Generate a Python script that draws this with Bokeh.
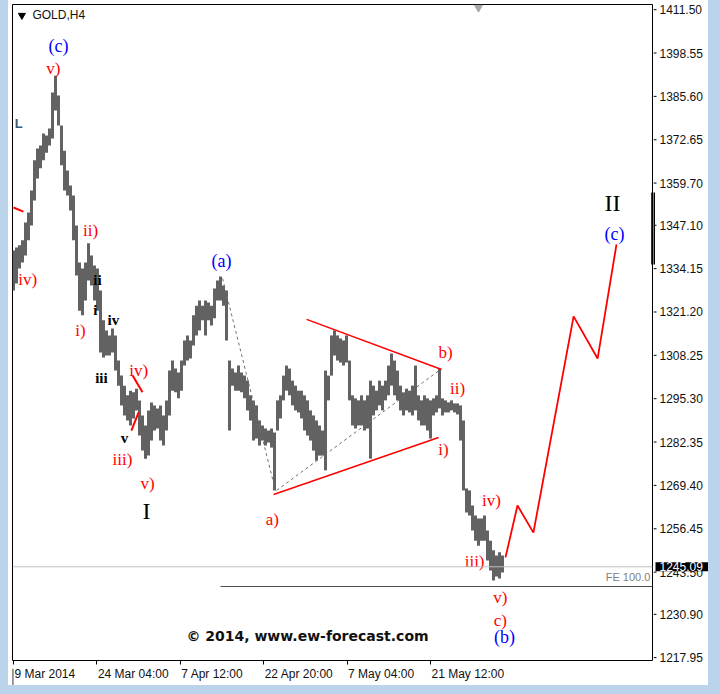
from bokeh.plotting import figure
from bokeh.models import (Range1d, FixedTicker, Label, Span, ColumnDataSource, Spacer)
from bokeh.layouts import row, column
from bokeh.core.properties import value
from bokeh.embed import file_html
from bokeh.resources import INLINE

# ---- price bars (H4, sampled), high / low in USD ----
bar_high = [1339.6, 1340.5, 1341.1, 1342.6, 1347.9, 1350.9, 1357.5, 1366.5, 1370.0, 1370.9,
            1374.5, 1373.9, 1376.0, 1386.8, 1391.8, 1385.9, 1376.9, 1369.4, 1363.5, 1359.0,
            1356.0, 1347.0, 1336.0, 1334.2, 1336.0, 1341.7, 1338.1, 1335.1, 1334.2, 1327.6,
            1318.7, 1315.7, 1314.2, 1316.3, 1314.2, 1306.7, 1302.2, 1299.2, 1296.3, 1297.7,
            1297.2, 1298.3, 1294.8, 1290.3, 1287.3, 1291.8, 1294.2, 1293.3, 1292.4, 1293.3,
            1290.3, 1294.8, 1303.7, 1306.7, 1304.3, 1303.1, 1306.7, 1312.7, 1314.2, 1312.7,
            1320.2, 1323.1, 1324.6, 1323.1, 1324.6, 1324.0, 1323.1, 1328.2, 1330.6, 1331.8,
            1329.1, 1327.6, 1306.7, 1304.3, 1303.1, 1305.2, 1303.1, 1302.2, 1300.7, 1296.3,
            1294.8, 1293.3, 1288.8, 1287.3, 1286.4, 1285.8, 1286.4, 1285.2, 1294.8, 1296.3,
            1302.2, 1305.2, 1304.3, 1300.7, 1299.2, 1297.7, 1297.7, 1296.3, 1294.8, 1291.8,
            1290.3, 1288.8, 1287.3, 1285.8, 1303.7, 1302.2, 1314.2, 1315.7, 1314.2, 1313.3,
            1312.7, 1314.2, 1306.7, 1296.3, 1295.4, 1294.8, 1296.3, 1294.8, 1296.3, 1300.7,
            1299.2, 1297.7, 1300.7, 1299.2, 1300.7, 1305.2, 1308.8, 1306.7, 1303.7, 1299.2,
            1297.2, 1298.3, 1297.7, 1299.2, 1305.2, 1296.3, 1294.8, 1296.3, 1295.4, 1294.8,
            1295.4, 1296.3, 1304.3, 1295.4, 1294.8, 1294.2, 1294.8, 1293.9, 1293.9, 1293.3,
            1288.8, 1268.5, 1267.9, 1263.4, 1260.4, 1259.5, 1259.5, 1260.4, 1255.9, 1252.9,
            1250.0, 1248.5, 1249.4, 1248.5]
bar_low = [1327.6, 1329.7, 1334.2, 1336.0, 1338.1, 1342.6, 1347.0, 1354.5, 1361.1, 1364.1,
           1366.5, 1368.8, 1370.9, 1373.0, 1381.4, 1376.9, 1365.0, 1357.5, 1356.0, 1351.5,
           1342.6, 1332.1, 1321.6, 1320.2, 1324.6, 1330.6, 1329.1, 1324.6, 1321.6, 1309.1,
           1307.6, 1308.2, 1308.2, 1309.1, 1303.7, 1299.2, 1293.3, 1290.3, 1288.8, 1287.3,
           1289.4, 1291.8, 1284.3, 1279.8, 1277.4, 1278.3, 1282.8, 1285.8, 1286.4, 1282.8,
           1281.3, 1285.8, 1290.3, 1297.7, 1297.2, 1295.4, 1297.7, 1305.2, 1306.7, 1307.3,
           1311.2, 1314.2, 1315.7, 1318.7, 1314.2, 1318.7, 1317.2, 1319.3, 1324.6, 1324.6,
           1323.1, 1312.7, 1285.8, 1299.2, 1297.7, 1297.7, 1297.2, 1295.4, 1291.8, 1288.8,
           1282.8, 1283.4, 1281.3, 1282.8, 1281.3, 1282.2, 1280.7, 1267.9, 1285.8, 1289.4,
           1294.8, 1297.7, 1296.3, 1293.3, 1291.8, 1291.2, 1289.4, 1285.8, 1284.3, 1282.8,
           1279.8, 1276.8, 1278.3, 1278.3, 1273.9, 1294.8, 1302.2, 1308.2, 1306.7, 1306.1,
           1305.2, 1306.1, 1294.8, 1287.3, 1286.4, 1287.3, 1287.3, 1285.8, 1286.4, 1277.4,
           1290.3, 1291.8, 1293.3, 1291.8, 1294.8, 1296.3, 1299.2, 1296.3, 1294.8, 1291.8,
           1290.3, 1291.8, 1291.2, 1290.3, 1291.8, 1288.8, 1287.3, 1287.3, 1285.8, 1283.4,
           1290.3, 1291.2, 1292.4, 1290.3, 1291.2, 1291.2, 1291.8, 1291.2, 1290.6, 1282.8,
           1267.9, 1261.3, 1260.4, 1255.9, 1252.9, 1251.4, 1252.9, 1252.9, 1247.0, 1244.0,
           1241.0, 1242.2, 1241.6, 1243.4]
bar_idx = list(range(len(bar_high)))

# ---- axes ----
y_ticks = [1411.50, 1398.55, 1385.60, 1372.65, 1359.70, 1347.10, 1334.15, 1321.20,
           1308.25, 1295.30, 1282.35, 1269.40, 1256.45, 1243.50, 1230.90, 1217.95]
y_tick_labels = ["%.2f" % v for v in y_ticks]
x_tick_pos = [0, 27.8, 55.6, 83.4, 111.2, 139]
x_tick_labels = ["9 Mar 2014", "24 Mar 04:00", "7 Apr 12:00", "22 Apr 20:00",
                 "7 May 04:00", "21 May 12:00"]

# ---- annotations (bar index, price) ----
proj_x = [164, 168, 173.3, 186.7, 194.7, 201]
proj_y = [1247.9, 1263.4, 1255.3, 1319.9, 1307.3, 1341.4]
tri_up_x, tri_up_y = [97.7, 142.7], [1319.0, 1304.0]
tri_lo_x, tri_lo_y = [86.7, 141.7], [1266.7, 1283.7]
dash1_x, dash1_y = [69.7, 87.3], [1331.2, 1267.9]
dash2_x, dash2_y = [87.7, 142.3], [1267.9, 1304.0]
red_seg_x0 = [0, 39.7, 39.3]
red_seg_y0 = [1352.4, 1302.2, 1285.8]
red_seg_x1 = [3.3, 43.0, 41.7]
red_seg_y1 = [1351.2, 1297.2, 1291.2]

bid_price = 1245.09
fe_price = 1239.2
marker_top, marker_bottom = 1356.9, 1335.4

red_txt = ["v)", "iv)", "ii)", "i)", "iv)", "iii)", "v)", "a)", "b)", "ii)", "i)", "iv)", "iii)", "v)", "c)"]
red_x = [13.3, 4.7, 25.7, 22.3, 41.7, 36.3, 44.7, 86.3, 144, 148, 143.3, 159.3, 153.7, 162.3, 162.3]
red_y = [1393.9, 1330.9, 1345.5, 1315.7, 1303.7, 1277.1, 1269.9, 1259.2, 1309.1, 1298.4, 1280.1,
         1264.9, 1246.7, 1236.0, 1229.1]
blue_txt = ["(c)", "(a)", "(b)", "(c)"]
blue_x = [15, 69.3, 163.7, 200.3]
blue_y = [1400.8, 1336.3, 1224.0, 1344.6]
blk_txt = ["ii", "i", "iv", "iii", "v"]
blk_x = [28, 27.3, 33.3, 29.3, 37]
blk_y = [1330.9, 1321.9, 1318.7, 1301.6, 1283.7]
big_txt = ["I", "II"]
big_x = [44.3, 199.7]
big_y = [1261.9, 1353.9]

AXIS_FONT = "Liberation Sans"

# ---------------- main price panel ----------------
p = figure(width=645, height=668, output_backend="svg", toolbar_location=None,
           x_range=Range1d(-1/3, 213), y_range=Range1d(1217.10, 1413.05),
           y_axis_location=None, min_border_left=4, min_border_right=1,
           min_border_top=4, min_border_bottom=8)
p.grid.visible = False
p.outline_line_color = "black"
p.outline_line_width = 1
p.background_fill_color = "white"
p.border_fill_color = "white"

xa = p.xaxis[0]
xa.ticker = FixedTicker(ticks=x_tick_pos)
xa.axis_line_color = None
xa.major_tick_in = 0
xa.major_tick_out = 4
xa.minor_tick_line_color = None
xa.major_label_text_color = None
xa.major_label_text_font_size = "1px"
xa.major_label_standoff = 0

# horizontal levels
p.add_layout(Span(location=bid_price, dimension="width", line_color="#c0c0c0", line_width=1))
p.segment(x0=[69], y0=[fe_price], x1=[214], y1=[fe_price], line_color="#505050", line_width=1.2)

# price bars
src = ColumnDataSource(dict(x=bar_idx, top=bar_high, bottom=bar_low))
p.vbar(x="x", top="top", bottom="bottom", width=1.0, source=src,
       fill_color="#626262", line_color=None)

# wave structure lines
p.line(dash1_x, dash1_y, line_color="#707070", line_dash="3 3", line_width=1)
p.line(dash2_x, dash2_y, line_color="#707070", line_dash="3 3", line_width=1)
p.line(tri_up_x, tri_up_y, line_color="#ff0000", line_width=1.5)
p.line(tri_lo_x, tri_lo_y, line_color="#ff0000", line_width=1.5)
p.segment(x0=red_seg_x0, y0=red_seg_y0, x1=red_seg_x1, y1=red_seg_y1,
          line_color="#ff0000", line_width=2)
p.line(proj_x, proj_y, line_color="#ff0000", line_width=1.8)

# right-edge marker (part inside the frame)
p.segment(x0=[212.9], y0=[marker_top], x1=[212.9], y1=[marker_bottom], line_color="black", line_width=2)
# chart shift marker
p.scatter([155], [1412.15], marker="inverted_triangle", size=8, color="#a8a8a8")
# title marker
p.scatter([2.8], [1409.8], marker="inverted_triangle", size=7, color="black")

# wave labels
p.text(x=red_x, y=red_y, text=red_txt, text_color="#ff0000", text_align="center",
       text_baseline="middle", text_font=value("Liberation Serif"), text_font_size="17px")
p.text(x=blue_x, y=blue_y, text=blue_txt, text_color="#0000ff", text_align="center",
       text_baseline="middle", text_font=value("Liberation Serif"), text_font_size="18px")
p.text(x=blk_x, y=blk_y, text=blk_txt, text_color="#000000", text_align="center",
       text_baseline="middle", text_font=value("Liberation Serif"), text_font_size="15px",
       text_font_style="bold")
p.text(x=big_x, y=big_y, text=big_txt, text_color="#000000", text_align="center",
       text_baseline="middle", text_font=value("Liberation Serif"), text_font_size="24px")
p.text(x=[1.7], y=[1377.5], text=["L"], text_color="#3c5a78", text_align="center",
       text_baseline="middle", text_font=value("Liberation Sans"), text_font_size="13px",
       text_font_style="bold")

p.add_layout(Label(x=6.3, y=1409.8, text="GOLD,H4", text_font="Liberation Sans",
                   text_font_size="12px", text_baseline="middle", text_color="#111111"))
p.add_layout(Label(x=98, y=1224.3, text="\u00a9 2014, www.ew-forecast.com",
                   text_font="DejaVu Sans", text_font_style="bold", text_font_size="14px",
                   text_align="center", text_baseline="middle", text_color="#111111"))
p.add_layout(Label(x=212.3, y=1241.9, text="FE 100.0", text_font="Liberation Sans",
                   text_font_size="11px", text_align="right", text_baseline="middle",
                   text_color="#808080"))

# ---------------- price scale panel (right) ----------------
# same price-to-pixel scale as the main panel, but covering the panel's full height
ys = figure(width=55, height=668, output_backend="svg", toolbar_location=None,
            x_range=Range1d(0, 55), y_range=Range1d(1214.71, 1414.24),
            x_axis_location=None, y_axis_location=None,
            min_border_left=0, min_border_right=0, min_border_top=0, min_border_bottom=0)
ys.grid.visible = False
ys.outline_line_color = None
ys.border_fill_color = "white"
ys.background_fill_color = "white"
ys.segment(x0=[0] * len(y_ticks), y0=y_ticks, x1=[3] * len(y_ticks), y1=y_ticks,
           line_color="black", line_width=1)
ys.text(x=[6] * len(y_ticks), y=y_ticks, text=y_tick_labels, text_align="left",
        text_baseline="middle", text_font=value(AXIS_FONT), text_font_size="12px",
        text_color="#111111")
ys.segment(x0=[0.5], y0=[marker_top], x1=[0.5], y1=[marker_bottom], line_color="black", line_width=2)
ys.quad(left=[2], right=[55], bottom=[bid_price - 1.35], top=[bid_price + 1.35],
        fill_color="black", line_color=None)
ys.text(x=[6], y=[bid_price], text=["%.2f" % bid_price], text_align="left",
        text_baseline="middle", text_font=value(AXIS_FONT), text_font_size="12px",
        text_color="white")

# ---------------- date scale panel (bottom) ----------------
ds = figure(width=645, height=17, output_backend="svg", toolbar_location=None,
            x_range=p.x_range, y_range=Range1d(0, 1),
            x_axis_location=None, y_axis_location=None,
            min_border_left=4, min_border_right=1, min_border_top=0, min_border_bottom=0)
ds.grid.visible = False
ds.outline_line_color = None
ds.border_fill_color = "white"
ds.segment(x0=[-0.25], y0=[0], x1=[-0.25], y1=[1], line_color="black", line_width=1.2)
ds.text(x=x_tick_pos, y=[0.7] * len(x_tick_pos), text=x_tick_labels, x_offset=1,
        text_align="left", text_baseline="middle", text_font=value(AXIS_FONT),
        text_font_size="12px", text_color="#111111")

frame_blue = "#bcd3ec"
left_pad = Spacer(width=8, height=685, styles={"background-color": frame_blue})
right_pad = Spacer(width=12, height=685, styles={"background-color": frame_blue})
bottom_pad = Spacer(width=720, height=9, styles={"background-color": frame_blue})
right_fill = Spacer(width=55, height=17, styles={"background-color": "white"})
chart = row(column(p, ds, spacing=0), column(ys, right_fill, spacing=0), spacing=0)
page = column(row(left_pad, chart, right_pad, spacing=0), bottom_pad, spacing=0)

open("out.html", "w").write(file_html(page, INLINE))
